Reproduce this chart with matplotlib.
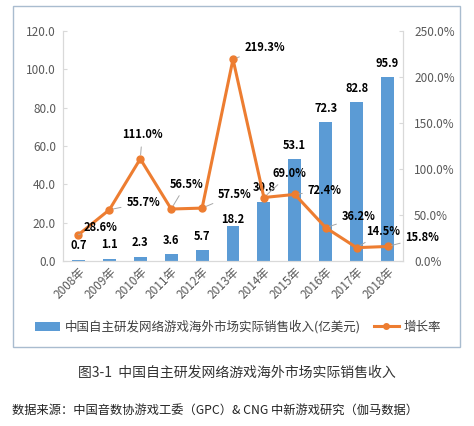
import matplotlib
matplotlib.use("Agg")
import matplotlib.pyplot as plt
from matplotlib.patches import Rectangle, Patch
from matplotlib.lines import Line2D
from matplotlib.ticker import FuncFormatter, MultipleLocator

plt.rcParams['font.family'] = ['Noto Sans CJK SC', 'DejaVu Sans']

# data
years = ['2008年', '2009年', '2010年', '2011年', '2012年', '2013年',
         '2014年', '2015年', '2016年', '2017年', '2018年']
revenue = [0.7, 1.1, 2.3, 3.6, 5.7, 18.2, 30.8, 53.1, 72.3, 82.8, 95.9]
growth = [28.6, 55.7, 111.0, 56.5, 57.5, 219.3, 69.0, 72.4, 36.2, 14.5, 15.8]

bar_name = '中国自主研发网络游戏海外市场实际销售收入(亿美元)'
line_name = '增长率'
caption = '图3-1  中国自主研发网络游戏海外市场实际销售收入'
source = '数据来源：中国音数协游戏工委（GPC）& CNG 中新游戏研究（伽马数据）'

BLUE = '#5B9BD5'
ORANGE = '#ED7D31'
GREY = '#595959'

W, H = 474, 426
fig = plt.figure(figsize=(W / 100, H / 100), dpi=100)

# outer frame of the chart area
fig.patches.append(Rectangle((13 / W, 1 - 347 / H), 447 / W, 341 / H,
                             transform=fig.transFigure, fill=False,
                             edgecolor='#A9BCCF', lw=1.0))

ax = fig.add_axes([63 / W, 1 - 261 / H, 340 / W, 230 / H])
ax2 = ax.twinx()

x = list(range(len(years)))
ax.bar(x, revenue, width=0.42, color=BLUE, zorder=2)
ax.set_xlim(-0.5, len(years) - 0.5)
ax.set_ylim(0, 120)
ax.yaxis.set_major_locator(MultipleLocator(20))
ax.yaxis.set_major_formatter(FuncFormatter(lambda v, p: '%.1f' % v))

ax2.plot(x, growth, color=ORANGE, lw=2.2, marker='o', ms=5, zorder=3)
ax2.set_ylim(0, 250)
ax2.yaxis.set_major_locator(MultipleLocator(50))
ax2.yaxis.set_major_formatter(FuncFormatter(lambda v, p: '%.1f%%' % v))

ax.set_xticks(x)
ax.set_xticklabels(years, rotation=45, ha='right', rotation_mode='anchor',
                   fontsize=8.5, color=GREY)
ax.tick_params(axis='x', length=0, pad=3)
ax.tick_params(axis='y', labelsize=8.5, labelcolor=GREY, length=3,
               direction='in', color='#D9D9D9', pad=5)
ax2.tick_params(axis='y', labelsize=8.5, labelcolor=GREY, length=3,
                direction='in', color='#D9D9D9', pad=8)

for a in (ax, ax2):
    a.spines['top'].set_visible(False)
    a.spines['left'].set_color('#D9D9D9')
    a.spines['right'].set_color('#D9D9D9')
    a.spines['bottom'].set_color('#D9D9D9')

# value labels on the bars
bar_dy = {5: 7}
for i, v in enumerate(revenue):
    ax.annotate('%.1f' % v, (i, v), xytext=(0, bar_dy.get(i, 14)),
                textcoords='offset pixels', ha='center', va='center',
                fontsize=8, fontweight='bold', color='black', zorder=5)

# growth labels with leader lines
line_off = [(22, 7), (34, 7), (2, 24), (15, 25), (33, 14), (32, 12),
            (26, 24), (30, 4), (33, 11), (26, 16), (35, 9)]
for i, v in enumerate(growth):
    ax2.annotate('%.1f%%' % v, (i, v), xytext=line_off[i],
                 textcoords='offset pixels', ha='center', va='center',
                 fontsize=8, fontweight='bold', color='black', zorder=6,
                 arrowprops=dict(arrowstyle='-', color='#A6A6A6', lw=0.7,
                                 shrinkA=2, shrinkB=3))

handles = [Patch(facecolor=BLUE, edgecolor='none'),
           Line2D([], [], color=ORANGE, lw=2.2, marker='o', ms=4)]
fig.legend(handles, [bar_name, line_name], loc='center',
           bbox_to_anchor=(238 / W, 1 - 327 / H), ncol=2, frameon=False,
           fontsize=9, handlelength=2.0, columnspacing=1.0,
           handletextpad=0.4, labelcolor='#404040')

fig.text(237 / W, 1 - 373 / H, caption, ha='center', va='center',
         fontsize=10, color='#333333')
fig.text(12 / W, 1 - 410 / H, source, ha='left', va='center',
         fontsize=8.8, color='#222222')

fig.savefig('out.png', dpi=100)
